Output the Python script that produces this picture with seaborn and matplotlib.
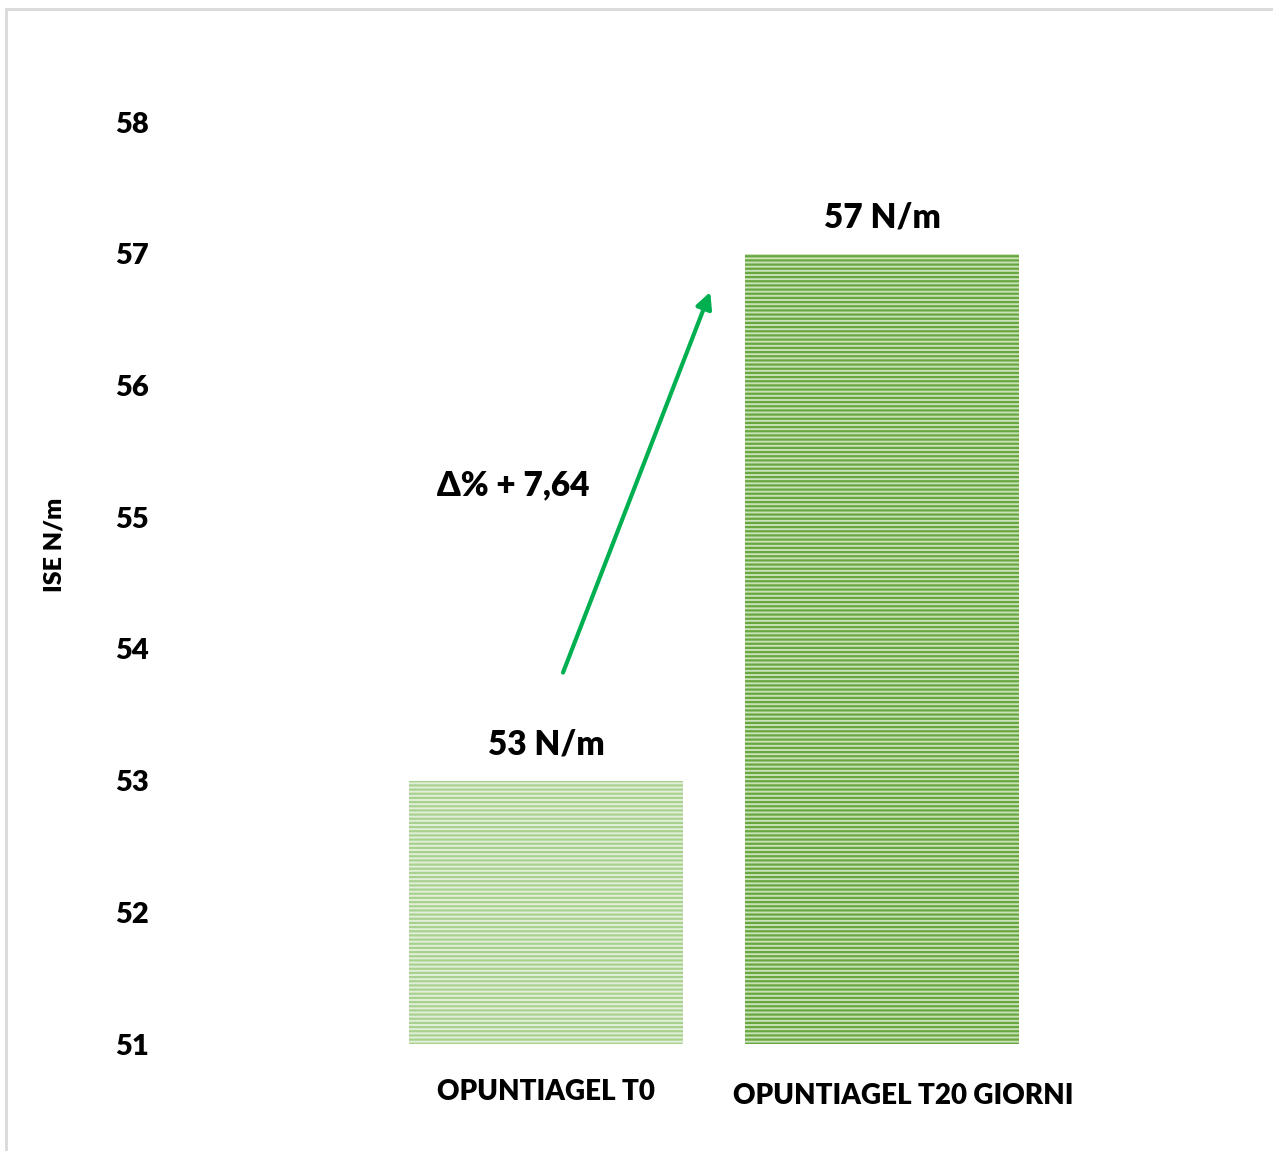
import matplotlib
matplotlib.use("Agg")
import matplotlib.pyplot as plt
import matplotlib.transforms as mtransforms
from matplotlib.lines import Line2D
import seaborn as sns
import pandas as pd

categories = ["OPUNTIAGEL T0", "OPUNTIAGEL T20 GIORNI"]
values = [53, 57]
value_labels = ["53 N/m", "57 N/m"]
y_ticks = [51, 52, 53, 54, 55, 56, 57, 58]
y_label = "ISE N/m"
delta_text = "Δ% + 7,64"

sns.set_theme(style="white")
plt.rcParams["font.family"] = ["Lato", "DejaVu Sans"]
plt.rcParams["font.weight"] = "heavy"
plt.rcParams["text.color"] = "black"
plt.rcParams["xtick.color"] = "black"
plt.rcParams["ytick.color"] = "black"
plt.rcParams["axes.labelcolor"] = "black"
plt.rcParams["hatch.linewidth"] = 1.6

W = "heavy"
face_colors = ["#e3efdb", "#c9e2b8"]
stripe_colors = ["#a9d18e", "#68a640"]

df = pd.DataFrame({"cat": categories, "val": values})

fig = plt.figure(figsize=(12.73, 11.51), dpi=100)
ax = fig.add_axes([160 / 1273, 1 - 1044 / 1151, 924 / 1273, 922 / 1151])
sns.barplot(data=df, x="cat", y="val", hue="cat", palette=face_colors,
            width=0.816, legend=False, ax=ax, saturation=1)

for patch, sc in zip(ax.patches, stripe_colors):
    patch.set_hatch("----")
    patch.set_edgecolor(sc)
    patch.set_linewidth(0)

ax.set_ylim(51, 58)
ax.set_xlim(-1.149, 1.6)
ax.set_yticks(y_ticks)
ax.set_yticklabels([str(t) for t in y_ticks], fontsize=21, fontweight=W)
ax.tick_params(axis="y", length=0, pad=8)
ax.tick_params(axis="x", length=0, pad=25)
ax.set_xticks([0, 1])
ax.set_xticklabels(categories, fontsize=20, fontweight=W)
labels = ax.get_xticklabels()
labels[1].set_transform(labels[1].get_transform() +
                        mtransforms.ScaledTranslation(0.21, -0.04, fig.dpi_scale_trans))
ax.set_xlabel("")
ax.set_ylabel(y_label, fontsize=18, fontweight=W)
ax.yaxis.set_label_coords(-0.102, 0.541)
for s in ax.spines.values():
    s.set_visible(False)
ax.grid(False)

for i, (v, lab) in enumerate(zip(values, value_labels)):
    ax.annotate(lab, (i, v), xytext=(0, 26), textcoords="offset points",
                ha="center", va="center", fontsize=24, fontweight=W, color="black")

ax.annotate("", xy=(0.488, 56.71), xytext=(0.05, 53.82),
            arrowprops=dict(arrowstyle="-|>,head_length=0.8,head_width=0.4",
                            color="#00b050", lw=3, shrinkA=0, shrinkB=0))
ax.text(-0.098, 55.24, delta_text, ha="center", va="center",
        fontsize=24, fontweight=W, color="black")

fig.add_artist(Line2D([6 / 1273, 6 / 1273], [0, 1 - 9 / 1151], color="#d9d9d9", lw=2,
                      transform=fig.transFigure))
fig.add_artist(Line2D([6 / 1273, 1], [1 - 9 / 1151, 1 - 9 / 1151], color="#d9d9d9", lw=2,
                      transform=fig.transFigure))

fig.savefig("out.png", dpi=100)
